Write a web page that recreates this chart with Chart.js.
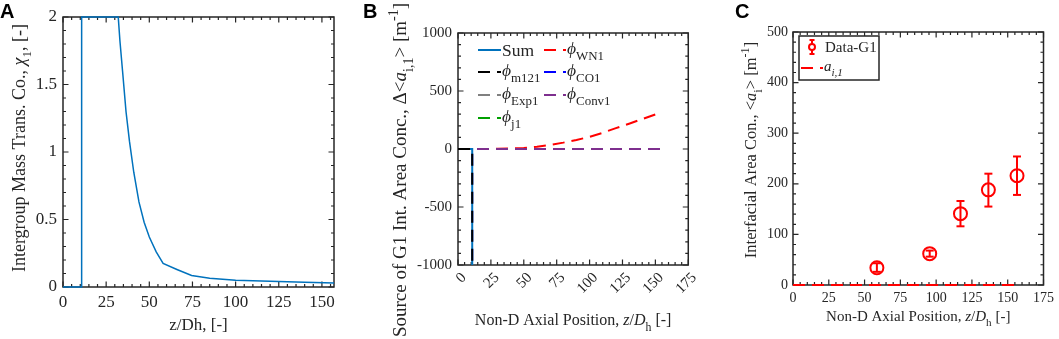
<!DOCTYPE html>
<html>
<head>
<meta charset="utf-8">
<script src="https://cdn.jsdelivr.net/npm/chart.js@4.4.1/dist/chart.umd.min.js"></script>
<style>
  body { margin: 0; background: #fff; width: 1059px; height: 339px; overflow: hidden; position: relative; }
  .panel { position: absolute; top: 0; }
</style>
</head>
<body>
<div class="panel" style="left:0px"><canvas id="chartA" width="350" height="339"></canvas></div>
<div class="panel" style="left:350px"><canvas id="chartB" width="355" height="339"></canvas></div>
<div class="panel" style="left:705px"><canvas id="chartC" width="354" height="339"></canvas></div>
<script>
// ---- panel A: intergroup mass transfer coefficient
var aZ   = [0, 10.8, 10.8, 32, 33, 34.5, 36.5, 38.5, 41, 44, 47, 50, 54, 58, 66, 74.5, 85, 100, 120, 140, 157];
var aChi = [0, 0, 2, 2, 1.82, 1.6, 1.3, 1.08, 0.85, 0.63, 0.48, 0.37, 0.26, 0.175, 0.13, 0.085, 0.065, 0.05, 0.042, 0.035, 0.03];
var aXTicks = [0, 25, 50, 75, 100, 125, 150];
var aYTicks = [0, 0.5, 1, 1.5, 2];

// ---- panel B: source terms of G1 interfacial area concentration
var bStepZ = [0, 10.8, 10.8];
var bSum   = [0, 0, -1000];
var bM121  = [0, 0, -1000];
var bCO1   = [0, 0, -1000];
var bWnZ   = [0, 10, 20, 30, 40, 50, 60, 70, 80, 90, 100, 110, 120, 130, 140, 150, 153];
var bWN1   = [0, 0, 0.5, 1.5, 4, 9, 19, 35, 55, 78, 105, 140, 180, 218, 258, 298, 310];
var bFlatZ = [0, 155];
var bConv1 = [0, 0];
var bExp1  = [0, 0];
var bJ1    = [0, 0];
var bXTicks = [0, 25, 50, 75, 100, 125, 150, 175];
var bYTicks = [-1000, -500, 0, 500, 1000];

// ---- panel C: measured vs predicted G1 interfacial area concentration
var cZ     = [58.6, 95.5, 117, 136.5, 156.5];
var cData  = [34, 62, 141, 188, 216];
var cLow   = [26, 56, 116, 155, 178];
var cHigh  = [43, 68, 166, 220, 254];
var cModelZ = [0, 155];
var cModel  = [0, 0];
var cXTicks = [0, 25, 50, 75, 100, 125, 150, 175];
var cYTicks = [0, 100, 200, 300, 400, 500];

var SERIF = '"Liberation Serif", "Times New Roman", serif';
var INK = '#262626';
var DASH = [12, 7];

function pts(xs, ys) {
  return xs.map(function(x, i) { return { x: x, y: ys[i] }; });
}

// text with italic / subscript / superscript pieces
function drawRich(ctx, parts, x, y, size, align, angle) {
  ctx.save();
  ctx.translate(x, y);
  if (angle) ctx.rotate(angle);
  var pieces = parts.map(function(p) {
    var s = (p.sub || p.sup) ? size * 0.74 : size;
    var f = (p.it ? 'italic ' : '') + s + 'px ' + SERIF;
    ctx.font = f;
    return { t: p.t, font: f, w: ctx.measureText(p.t).width, dy: p.sub ? size * 0.35 : (p.sup ? -size * 0.4 : 0) };
  });
  var total = pieces.reduce(function(a, p) { return a + p.w; }, 0);
  var cx = align === 'center' ? -total / 2 : (align === 'right' ? -total : 0);
  ctx.textAlign = 'left';
  ctx.textBaseline = 'alphabetic';
  ctx.fillStyle = INK;
  pieces.forEach(function(p) {
    ctx.font = p.font;
    ctx.fillText(p.t, cx, p.dy);
    cx += p.w;
  });
  ctx.restore();
}

var matlabAxes = {
  id: 'matlabAxes',
  beforeDatasetsDraw: function(chart, args, o) {
    var ctx = chart.ctx, a = chart.chartArea;
    var xs = chart.scales.x, ys = chart.scales.y;
    ctx.save();
    ctx.strokeStyle = INK;
    ctx.lineWidth = 1.5;
    ctx.strokeRect(a.left, a.top, a.right - a.left, a.bottom - a.top);
    ctx.lineWidth = 1.2;
    ctx.beginPath();
    function vt(v, len) {
      var px = xs.getPixelForValue(v);
      ctx.moveTo(px, a.bottom); ctx.lineTo(px, a.bottom - len);
      ctx.moveTo(px, a.top); ctx.lineTo(px, a.top + len);
    }
    function ht(v, len) {
      var py = ys.getPixelForValue(v);
      ctx.moveTo(a.left, py); ctx.lineTo(a.left + len, py);
      ctx.moveTo(a.right, py); ctx.lineTo(a.right - len, py);
    }
    var v;
    for (v = xs.min; v <= xs.max + 1e-9; v += o.xMinor) vt(v, 3);
    for (v = ys.min; v <= ys.max + 1e-9; v += o.yMinor) ht(v, 3);
    xs.ticks.forEach(function(t) { vt(t.value, 5.5); });
    ys.ticks.forEach(function(t) { ht(t.value, 5.5); });
    ctx.stroke();
    ctx.restore();

    // panel letter and axis titles
    ctx.save();
    ctx.fillStyle = '#000';
    ctx.font = 'bold 20px "Liberation Sans", Arial, sans-serif';
    ctx.textBaseline = 'alphabetic';
    ctx.fillText(o.tag, o.tagX, 18);
    ctx.restore();
    drawRich(ctx, o.xTitle.parts, (a.left + a.right) / 2, o.xTitle.y, o.xTitle.size, 'center', 0);
    drawRich(ctx, o.yTitle.parts, o.yTitle.x, o.yTitle.y, o.yTitle.size, 'center', -Math.PI / 2);
  },
  afterDatasetsDraw: function(chart, args, o) {
    var lg = o.legend;
    if (!lg) return;
    var ctx = chart.ctx;
    ctx.save();
    if (lg.box) {
      ctx.fillStyle = '#fff';
      ctx.fillRect(lg.box[0], lg.box[1], lg.box[2], lg.box[3]);
      ctx.strokeStyle = INK;
      ctx.lineWidth = 1.5;
      ctx.strokeRect(lg.box[0], lg.box[1], lg.box[2], lg.box[3]);
    }
    lg.items.forEach(function(it) {
      var ds = chart.data.datasets[it.ds];
      ctx.strokeStyle = ds.borderColor;
      ctx.lineWidth = 2;
      if (it.kind === 'err') {
        var cx = it.x + 11;
        ctx.setLineDash([]);
        ctx.beginPath();
        ctx.moveTo(cx, it.y - 7); ctx.lineTo(cx, it.y + 7);
        ctx.moveTo(cx - 2.5, it.y - 7); ctx.lineTo(cx + 2.5, it.y - 7);
        ctx.moveTo(cx - 2.5, it.y + 7); ctx.lineTo(cx + 2.5, it.y + 7);
        ctx.stroke();
        ctx.beginPath();
        ctx.arc(cx, it.y, 3, 0, Math.PI * 2);
        ctx.fillStyle = '#fff';
        ctx.fill();
        ctx.stroke();
      } else {
        ctx.setLineDash(ds.borderDash || []);
        ctx.beginPath();
        ctx.moveTo(it.x, it.y); ctx.lineTo(it.x + it.w, it.y);
        ctx.stroke();
      }
      ctx.setLineDash([]);
      drawRich(ctx, it.parts, it.x + it.w + 1, it.y + it.dy, lg.size, 'left', 0);
    });
    ctx.restore();
  }
};

function lineSet(data, color, dash, width) {
  return {
    data: data, showLine: true, borderColor: color, backgroundColor: color,
    borderWidth: width || 2, borderDash: dash || [], pointRadius: 0, clip: false, tension: 0
  };
}

function axis(min, max, ticks, size, pad, fit, extra) {
  var s = {
    type: 'linear', min: min, max: max,
    grid: { display: false, drawTicks: false },
    border: { display: false },
    afterBuildTicks: function(sc) { sc.ticks = ticks.map(function(v) { return { value: v }; }); },
    afterFit: fit,
    ticks: {
      color: INK, padding: pad, autoSkip: false,
      font: { family: SERIF, size: size },
      callback: function(v) { return String(v); }
    }
  };
  if (extra) Object.assign(s.ticks, extra);
  return s;
}

function baseOptions(pad, scales, plug) {
  return {
    responsive: false, animation: false, devicePixelRatio: 1,
    layout: { padding: pad },
    scales: scales,
    plugins: { legend: { display: false }, tooltip: { enabled: false }, matlabAxes: plug }
  };
}

// ---- A
new Chart(document.getElementById('chartA'), {
  type: 'scatter',
  data: { datasets: [lineSet(pts(aZ, aChi), '#0072BD', [], 1.5)] },
  options: baseOptions({ left: 0, top: 17, right: 16, bottom: 0 }, {
    x: axis(0, 157, aXTicks, 17, 5, function(s) { s.height = 52; }),
    y: axis(0, 2, aYTicks, 17, 6, function(s) { s.width = 63; })
  }, {
    tag: 'A', tagX: 0, xMinor: 5, yMinor: 0.1,
    xTitle: { size: 17, y: 330, parts: [{ t: 'z/Dh, [-]' }] },
    yTitle: { size: 18, x: 25, y: 148, parts: [
      { t: 'Intergroup Mass Trans. Co., ' }, { t: '\u03C7', it: true }, { t: '1', sub: true }, { t: ', [-]' }] }
  }),
  plugins: [matlabAxes]
});

// ---- B
new Chart(document.getElementById('chartB'), {
  type: 'scatter',
  data: { datasets: [
    lineSet(pts(bStepZ, bM121), '#000000', DASH),
    lineSet(pts(bFlatZ, bConv1), '#7E2F8E', DASH),
    lineSet(pts(bWnZ, bWN1), '#FF0000', DASH),
    lineSet(pts(bStepZ, bSum), '#0072BD', []),
    lineSet(pts(bStepZ, bCO1), '#0000FF', DASH),
    lineSet(pts(bFlatZ, bExp1), '#808080', DASH),
    lineSet(pts(bFlatZ, bJ1), '#00A000', DASH)
  ] },
  options: baseOptions({ left: 0, top: 33, right: 13, bottom: 0 }, {
    x: axis(0, 175, bXTicks, 15, 4, function(s) { s.height = 74; }, { minRotation: 45, maxRotation: 45, labelOffset: 6 }),
    y: axis(-1000, 1000, bYTicks, 15, 6, function(s) { s.width = 108; })
  }, {
    tag: 'B', tagX: 13, xMinor: 5, yMinor: 100,
    xTitle: { size: 16, y: 325, parts: [
      { t: 'Non-D Axial Position, ' }, { t: 'z', it: true }, { t: '/' }, { t: 'D', it: true }, { t: 'h', sub: true }, { t: ' [-]' }] },
    yTitle: { size: 19, x: 56, y: 170, parts: [
      { t: 'Source of G1 Int. Area Conc., \u0394<' }, { t: 'a', it: true }, { t: 'i,1', sub: true },
      { t: '> [m' }, { t: '-1', sup: true }, { t: ']' }] },
    legend: { size: 17.5, items: [
      { ds: 3, x: 128, y: 50, w: 23, dy: 6, parts: [{ t: 'Sum' }] },
      { ds: 2, x: 194, y: 50, w: 22, dy: 4, parts: [{ t: '\u03D5', it: true }, { t: 'WN1', sub: true }] },
      { ds: 0, x: 128, y: 72, w: 23, dy: 4, parts: [{ t: '\u03D5', it: true }, { t: 'm121', sub: true }] },
      { ds: 4, x: 194, y: 72, w: 22, dy: 4, parts: [{ t: '\u03D5', it: true }, { t: 'CO1', sub: true }] },
      { ds: 5, x: 128, y: 95, w: 23, dy: 4, parts: [{ t: '\u03D5', it: true }, { t: 'Exp1', sub: true }] },
      { ds: 1, x: 194, y: 95, w: 22, dy: 4, parts: [{ t: '\u03D5', it: true }, { t: 'Conv1', sub: true }] },
      { ds: 6, x: 128, y: 118, w: 23, dy: 4, parts: [{ t: '\u03D5', it: true }, { t: 'j1', sub: true }] }
    ] }
  }),
  plugins: [matlabAxes]
});

// ---- C
var cErrSets = cZ.map(function(z, i) {
  var d = lineSet([{ x: z, y: cLow[i] }, { x: z, y: cHigh[i] }], '#FF0000', [], 2);
  d.pointStyle = 'line';
  d.pointRadius = 4;
  d.pointBorderWidth = 2;
  return d;
});
var cPoints = {
  data: pts(cZ, cData), showLine: false, pointStyle: 'circle', pointRadius: 6.5,
  borderColor: '#FF0000', backgroundColor: 'rgba(0,0,0,0)', pointBorderWidth: 2, borderWidth: 2, clip: false
};
new Chart(document.getElementById('chartC'), {
  type: 'scatter',
  data: { datasets: [cPoints, lineSet(pts(cModelZ, cModel), '#FF0000', DASH)].concat(cErrSets) },
  options: baseOptions({ left: 0, top: 32, right: 12, bottom: 0 }, {
    x: axis(0, 175, cXTicks, 14, 5, function(s) { s.height = 54; }),
    y: axis(0, 500, cYTicks, 14, 5, function(s) { s.width = 88; })
  }, {
    tag: 'C', tagX: 30, xMinor: 5, yMinor: 20,
    xTitle: { size: 15, y: 321, parts: [
      { t: 'Non-D Axial Position, ' }, { t: 'z', it: true }, { t: '/' }, { t: 'D', it: true }, { t: 'h', sub: true }, { t: ' [-]' }] },
    yTitle: { size: 16.5, x: 51, y: 150, parts: [
      { t: 'Interfacial Area Con., <' }, { t: 'a', it: true }, { t: 'i', sub: true },
      { t: '> [m' }, { t: '-1', sup: true }, { t: ']' }] },
    legend: { size: 15, box: [94, 36, 80, 44], items: [
      { ds: 0, kind: 'err', x: 96, y: 47, w: 23, dy: 5, parts: [{ t: 'Data-G1' }] },
      { ds: 1, x: 96, y: 68, w: 22, dy: 3, parts: [{ t: 'a', it: true }, { t: 'i,1', sub: true, it: true }] }
    ] }
  }),
  plugins: [matlabAxes]
});
</script>
</body>
</html>
